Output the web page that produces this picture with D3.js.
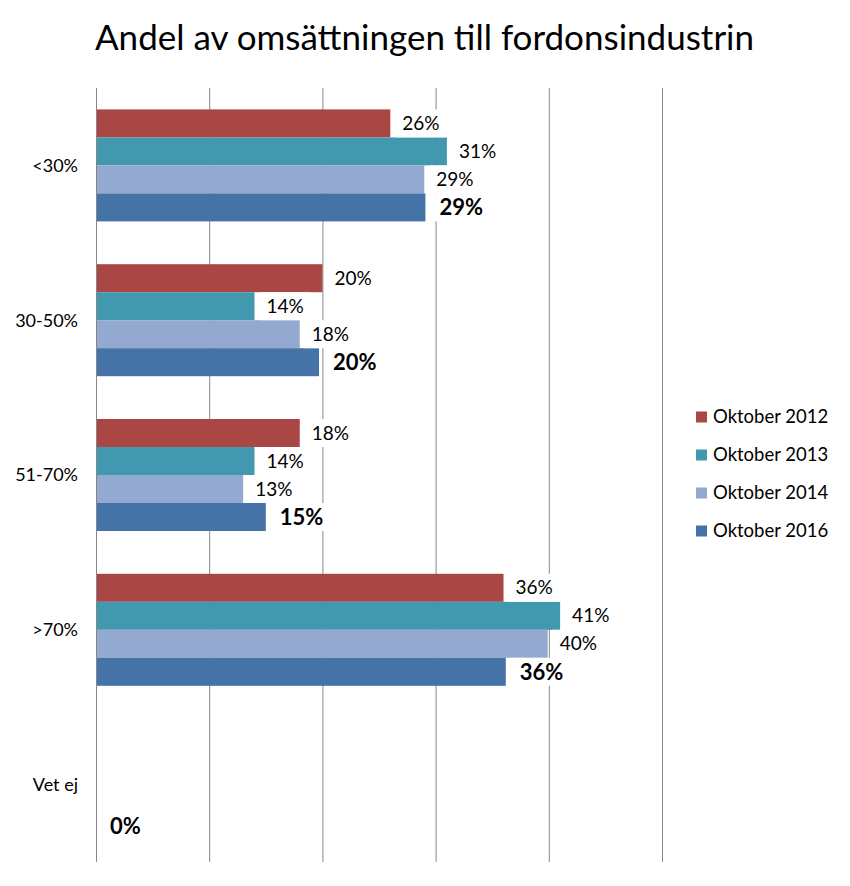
<!DOCTYPE html>
<html><head><meta charset="utf-8">
<script src="https://cdn.jsdelivr.net/npm/d3@7"></script>
<style>body{margin:0;background:#fff}</style>
</head><body>
<script>
const categories = ["<30%", "30-50%", "51-70%", ">70%", "Vet ej"];
const seriesNames = ["Oktober 2012", "Oktober 2013", "Oktober 2014", "Oktober 2016"];
const v2012 = [26.0, 20.0, 18.0, 36.0, null];
const v2013 = [31.0, 14.0, 14.0, 41.0, null];
const v2014 = [29.0, 18.0, 13.0, 39.9, null];
const v2016 = [29.1, 19.7, 15.0, 36.2, 0];
const labels2012 = ["26%", "20%", "18%", "36%", ""];
const labels2013 = ["31%", "14%", "14%", "41%", ""];
const labels2014 = ["29%", "18%", "13%", "40%", ""];
const labels2016 = ["29%", "20%", "15%", "36%", "0%"];
const colors = ["#AA4643", "#4198AF", "#93A9CF", "#4572A7"];
const xTicks = [0, 10, 20, 30, 40, 50];
const title = "Andel av omsättningen till fordonsindustrin";

const allVals = [v2012, v2013, v2014, v2016];
const allLabels = [labels2012, labels2013, labels2014, labels2016];
const FONT = "Lato, 'Open Sans', sans-serif";

const svg = d3.select("body").append("svg").attr("width", 850).attr("height", 886)
  .style("font-family", FONT);

const x = d3.scaleLinear().domain([0, 50]).range([96, 662]);
const y0 = d3.scaleBand().domain(categories).range([88, 862]);
const inner = d3.scaleBand().domain(seriesNames).range([0, 112]);
const bandOff = (y0.bandwidth() - 112) / 2;

// gridlines
svg.append("g").selectAll("line").data(xTicks).join("line")
  .attr("x1", d => x(d) + 0.5).attr("x2", d => x(d) + 0.5)
  .attr("y1", 88).attr("y2", 862)
  .attr("stroke", "#868686").attr("stroke-width", 1);

// bars
seriesNames.forEach((s, si) => {
  svg.append("g").selectAll("rect").data(categories.map((c, i) => ({c, v: allVals[si][i]})).filter(d => d.v != null && d.v > 0))
    .join("rect")
    .attr("x", x(0) + 1).attr("y", d => y0(d.c) + bandOff + inner(s))
    .attr("width", d => x(d.v) - x(0) - 1).attr("height", inner.bandwidth())
    .attr("fill", colors[si]);
});

// labels with white backgrounds
seriesNames.forEach((s, si) => {
  const bold = si === 3;
  const g = svg.append("g");
  categories.forEach((c, i) => {
    const v = allVals[si][i];
    const lab = allLabels[si][i];
    if (v == null || !lab) return;
    const cy = y0(c) + bandOff + inner(s) + inner.bandwidth() / 2;
    const tx = x(v) + (bold ? 14 : 12);
    const t = g.append("text").attr("x", tx).attr("y", cy).attr("dy", "0.35em")
      .attr("font-size", bold ? 22 : 19).attr("font-weight", bold ? "bold" : "normal")
      .attr("fill", "#000").text(lab);
    const bb = t.node().getBBox();
    g.insert("rect", "text").attr("x", x(v) + 5).attr("y", cy - 14)
      .attr("width", bb.width + (bold ? 15 : 13)).attr("height", 28).attr("fill", "#fff");
  });
});

// category labels
svg.append("g").selectAll("text").data(categories).join("text")
  .attr("x", 78).attr("y", d => y0(d) + y0.bandwidth() / 2).attr("dy", "0.35em")
  .attr("text-anchor", "end").attr("font-size", 18).attr("fill", "#000").text(d => d);

// title
svg.append("text").attr("x", 95).attr("y", 50).attr("font-size", 35).attr("fill", "#000").text(title);

// legend
const lg = svg.append("g");
seriesNames.forEach((s, i) => {
  const ly = 417 + i * 38;
  lg.append("rect").attr("x", 696).attr("y", ly - 5.5).attr("width", 11).attr("height", 11).attr("fill", colors[i]);
  lg.append("text").attr("x", 713).attr("y", ly).attr("dy", "0.35em").attr("font-size", 18.5).text(s);
});
</script>
</body></html>
